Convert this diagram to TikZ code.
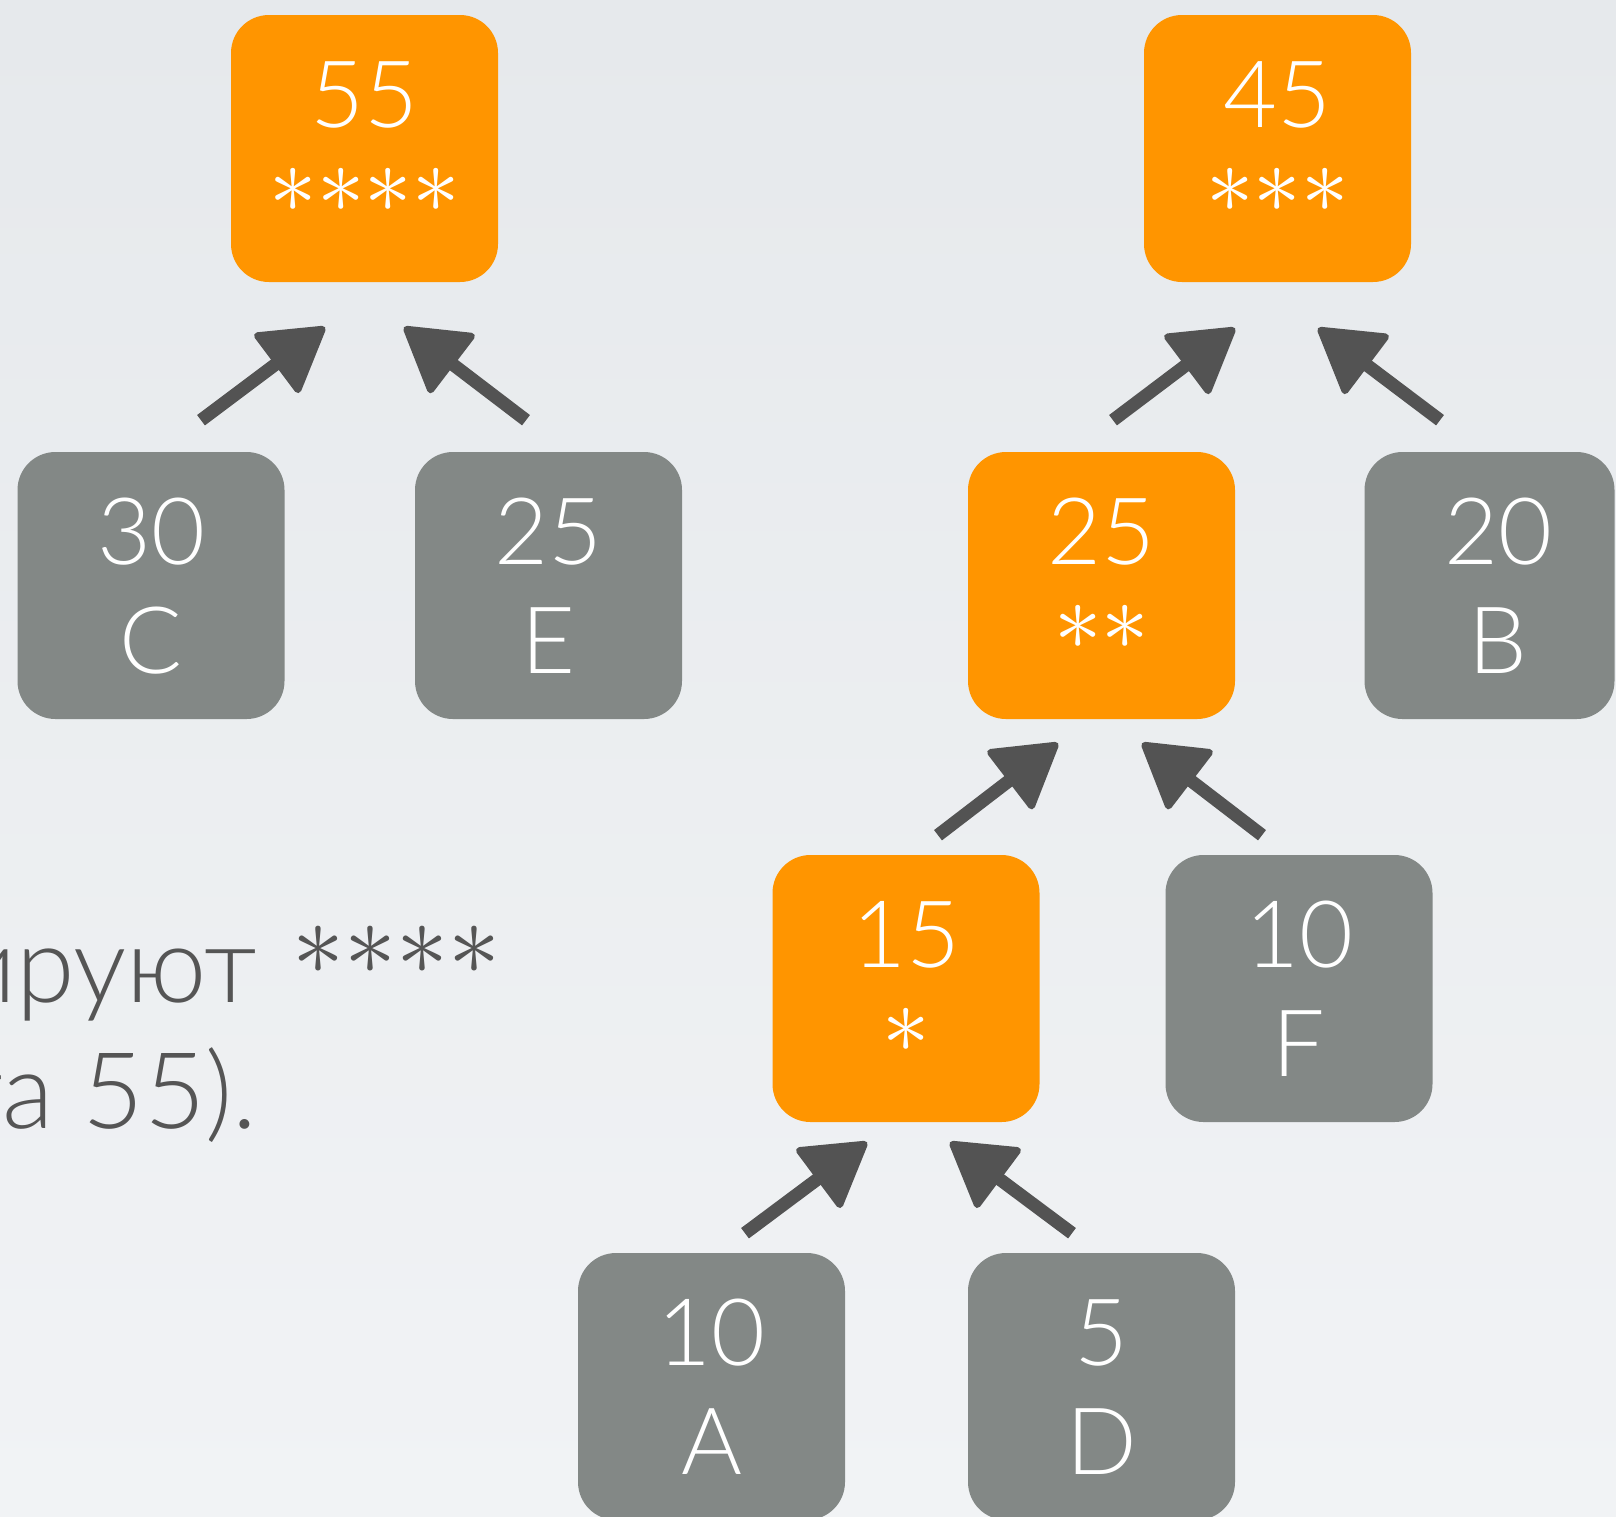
\RequirePackage{fix-cm}
\documentclass[tikz,border=0pt]{standalone}
\usepackage{fontspec}
\IfFontExistsTF{Lato Light}{\setmainfont{Lato Light}}{\setmainfont{Lato}}
\usetikzlibrary{arrows.meta,calc}
\definecolor{bgtop}{HTML}{E6E9EC}
\definecolor{bgbot}{HTML}{F1F3F5}
\definecolor{orng}{HTML}{FF9500}
\definecolor{gboxc}{HTML}{838886}
\definecolor{arrc}{HTML}{535353}
\definecolor{txtc}{HTML}{555555}
\tikzset{
  box/.style={minimum width=267pt, minimum height=267pt, inner sep=0pt, rounded corners=38pt, draw=none},
  obox/.style={box, fill=orng},
  gbox/.style={box, fill=gboxc},
  numtxt/.style={text=white, font=\fontsize{93}{93}\selectfont, inner sep=0pt, anchor=base},
  asttxt/.style={text=white, font=\fontsize{95}{95}\selectfont, inner sep=0pt, anchor=base},
  lefttxt/.style={text=txtc, font=\fontsize{106}{106}\selectfont, inner sep=0pt, anchor=base east},
  brush/.style={draw=arrc, line width=13pt, -{Triangle[round, line width=7pt, length=66pt, width=78pt]}}
}
\begin{document}
\begin{tikzpicture}[x=1pt,y=-1pt]
\fill[top color=bgtop,bottom color=bgbot] (0,0) rectangle (1616,1516);
\useasboundingbox (0,0) rectangle (1616,1516);

% boxes
\node[obox] (n55) at (364.5,148.5) {};
\node[obox] (n45) at (1277.5,148.5) {};
\node[gbox] (nC) at (151,585.5) {};
\node[gbox] (nE) at (548.5,585.5) {};
\node[obox] (n25) at (1101.5,585.5) {};
\node[gbox, minimum width=250pt] (nB) at (1489.5,585.5) {};
\node[obox] (n15) at (906,988.5) {};
\node[gbox] (nF) at (1299,988.5) {};
\node[gbox] (nA) at (711.5,1386.5) {};
\node[gbox] (nD) at (1101.5,1386.5) {};

% labels
\node[numtxt] (l55) at ($(n55.north)+(0,113)$) {55};
\node[asttxt] (s55) at ($(n55.north)+(0,198)$) {${\ast}{\ast}{\ast}{\ast}$};
\node[numtxt] (l45) at ($(n45.north)+(0,113)$) {45};
\node[asttxt] (s45) at ($(n45.north)+(0,198)$) {${\ast}{\ast}{\ast}$};
\node[numtxt] (lC) at ($(nC.north)+(0,113)$) {30};
\node[numtxt] (mC) at ($(nC.north)+(0,222)$) {C};
\node[numtxt] (lE) at ($(nE.north)+(0,113)$) {25};
\node[numtxt] (mE) at ($(nE.north)+(0,222)$) {E};
\node[numtxt] (l25) at ($(n25.north)+(0,113)$) {25};
\node[asttxt] (s25) at ($(n25.north)+(0,198)$) {${\ast}{\ast}$};
\node[numtxt] (lB) at ($(nB.north)+(8.5,113)$) {20};
\node[numtxt] (mB) at ($(nB.north)+(8.5,222)$) {B};
\node[numtxt] (l15) at ($(n15.north)+(0,113)$) {15};
\node[asttxt] (s15) at ($(n15.north)+(0,198)$) {${\ast}$};
\node[numtxt] (lF) at ($(nF.north)+(0,113)$) {10};
\node[numtxt] (mF) at ($(nF.north)+(0,222)$) {F};
\node[numtxt] (lA) at ($(nA.north)+(0,113)$) {10};
\node[numtxt] (mA) at ($(nA.north)+(0,222)$) {A};
\node[numtxt] (lD) at ($(nD.north)+(0,113)$) {5};
\node[numtxt] (mD) at ($(nD.north)+(0,222)$) {D};

% arrows
\draw[brush] ($(n55.south)+(-163.5,138)$) -- ($(n55.south)+(-39.5,45)$);
\draw[brush] ($(n55.south)+(161.5,138)$) -- ($(n55.south)+(39.5,45)$);
\draw[brush] ($(n45.south)+(-164.5,138)$) -- ($(n45.south)+(-42.5,46)$);
\draw[brush] ($(n45.south)+(162.5,138)$) -- ($(n45.south)+(40.5,46)$);
\draw[brush] ($(n25.south)+(-163.5,116)$) -- ($(n25.south)+(-43.5,24)$);
\draw[brush] ($(n25.south)+(160.5,116)$) -- ($(n25.south)+(40.5,24)$);
\draw[brush] ($(n15.south)+(-161,111)$) -- ($(n15.south)+(-39,20)$);
\draw[brush] ($(n15.south)+(166,111)$) -- ($(n15.south)+(44,20)$);

% left text
\node[lefttxt] (t1) at (257,1002) {ируют\rlap{\hspace{36pt}\raisebox{28pt}{\fontsize{104}{104}\selectfont${\ast}{\ast}{\ast}{\ast}$}}};
\node[lefttxt] (t2) at (258,1128) {та 55).};
\end{tikzpicture}
\end{document}
